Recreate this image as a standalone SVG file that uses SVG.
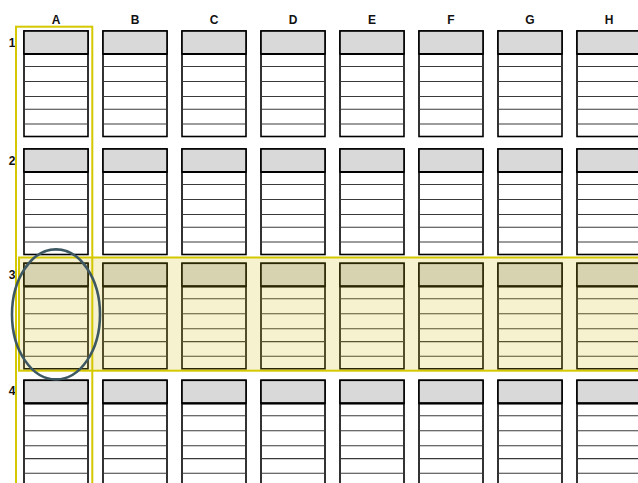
<svg xmlns="http://www.w3.org/2000/svg" xmlns:xlink="http://www.w3.org/1999/xlink" width="638" height="483" viewBox="0 0 638 483">
<style>
.lbl{font-family:"Liberation Sans",Arial,sans-serif;font-weight:bold;font-size:12px;fill:#111;text-anchor:middle}
.outer{fill:#fff;stroke:#000;stroke-width:1.6}
.head{fill:#d9d9d9;stroke:#000;stroke-width:1.6}
.div{stroke:#000;stroke-width:2.2}
.row{stroke:#3a3a3a;stroke-width:1.1}
.hl{stroke:#d4c800;stroke-width:2}
</style>
<defs>
<g id="tbl">
<rect class="outer" x="0" y="0" width="64" height="105.5"/>
<rect class="head" x="0" y="0" width="64" height="23"/>
<line class="div" x1="0" y1="23" x2="64" y2="23"/>
<line class="row" x1="0" y1="35.5" x2="64" y2="35.5"/>
<line class="row" x1="0" y1="50.5" x2="64" y2="50.5"/>
<line class="row" x1="0" y1="65.5" x2="64" y2="65.5"/>
<line class="row" x1="0" y1="78.3" x2="64" y2="78.3"/>
<line class="row" x1="0" y1="93" x2="64" y2="93"/>
</g>
</defs>
<rect width="638" height="483" fill="#fff"/>
<g id="column-labels">
<text class="lbl" x="56" y="24">A</text>
<text class="lbl" x="135" y="24">B</text>
<text class="lbl" x="214" y="24">C</text>
<text class="lbl" x="293" y="24">D</text>
<text class="lbl" x="372" y="24">E</text>
<text class="lbl" x="451" y="24">F</text>
<text class="lbl" x="530" y="24">G</text>
<text class="lbl" x="609" y="24">H</text>
</g>
<g id="row-labels">
<text class="lbl" x="12" y="47">1</text>
<text class="lbl" x="12" y="165">2</text>
<text class="lbl" x="12" y="279">3</text>
<text class="lbl" x="12" y="395">4</text>
</g>
<g id="row1">
<g id="A1" transform="translate(24,31)"><use xlink:href="#tbl" href="#tbl"/></g>
<g id="B1" transform="translate(103,31)"><use xlink:href="#tbl" href="#tbl"/></g>
<g id="C1" transform="translate(182,31)"><use xlink:href="#tbl" href="#tbl"/></g>
<g id="D1" transform="translate(261,31)"><use xlink:href="#tbl" href="#tbl"/></g>
<g id="E1" transform="translate(340,31)"><use xlink:href="#tbl" href="#tbl"/></g>
<g id="F1" transform="translate(419,31)"><use xlink:href="#tbl" href="#tbl"/></g>
<g id="G1" transform="translate(498,31)"><use xlink:href="#tbl" href="#tbl"/></g>
<g id="H1" transform="translate(577,31)"><use xlink:href="#tbl" href="#tbl"/></g>
</g>
<g id="row2">
<g id="A2" transform="translate(24,149)"><use xlink:href="#tbl" href="#tbl"/></g>
<g id="B2" transform="translate(103,149)"><use xlink:href="#tbl" href="#tbl"/></g>
<g id="C2" transform="translate(182,149)"><use xlink:href="#tbl" href="#tbl"/></g>
<g id="D2" transform="translate(261,149)"><use xlink:href="#tbl" href="#tbl"/></g>
<g id="E2" transform="translate(340,149)"><use xlink:href="#tbl" href="#tbl"/></g>
<g id="F2" transform="translate(419,149)"><use xlink:href="#tbl" href="#tbl"/></g>
<g id="G2" transform="translate(498,149)"><use xlink:href="#tbl" href="#tbl"/></g>
<g id="H2" transform="translate(577,149)"><use xlink:href="#tbl" href="#tbl"/></g>
</g>
<g id="row3">
<g id="A3" transform="translate(24,263.3)"><use xlink:href="#tbl" href="#tbl"/></g>
<g id="B3" transform="translate(103,263.3)"><use xlink:href="#tbl" href="#tbl"/></g>
<g id="C3" transform="translate(182,263.3)"><use xlink:href="#tbl" href="#tbl"/></g>
<g id="D3" transform="translate(261,263.3)"><use xlink:href="#tbl" href="#tbl"/></g>
<g id="E3" transform="translate(340,263.3)"><use xlink:href="#tbl" href="#tbl"/></g>
<g id="F3" transform="translate(419,263.3)"><use xlink:href="#tbl" href="#tbl"/></g>
<g id="G3" transform="translate(498,263.3)"><use xlink:href="#tbl" href="#tbl"/></g>
<g id="H3" transform="translate(577,263.3)"><use xlink:href="#tbl" href="#tbl"/></g>
</g>
<g id="row4">
<g id="A4" transform="translate(24,380.3)"><use xlink:href="#tbl" href="#tbl"/></g>
<g id="B4" transform="translate(103,380.3)"><use xlink:href="#tbl" href="#tbl"/></g>
<g id="C4" transform="translate(182,380.3)"><use xlink:href="#tbl" href="#tbl"/></g>
<g id="D4" transform="translate(261,380.3)"><use xlink:href="#tbl" href="#tbl"/></g>
<g id="E4" transform="translate(340,380.3)"><use xlink:href="#tbl" href="#tbl"/></g>
<g id="F4" transform="translate(419,380.3)"><use xlink:href="#tbl" href="#tbl"/></g>
<g id="G4" transform="translate(498,380.3)"><use xlink:href="#tbl" href="#tbl"/></g>
<g id="H4" transform="translate(577,380.3)"><use xlink:href="#tbl" href="#tbl"/></g>
</g>
<g id="column-A-highlight">
<rect class="hl" x="16" y="26.7" width="76.3" height="470" fill="none"/>
</g>
<g id="row-3-highlight">
<rect class="hl" x="19" y="257.5" width="640" height="113.2" fill="rgb(210,190,15)" fill-opacity="0.2"/>
</g>
<g id="selection-ellipse">
<ellipse cx="56" cy="314.4" rx="44" ry="65" fill="none" stroke="#3d5862" stroke-width="2.6"/>
</g>
<g id="connectors"/>
</svg>
